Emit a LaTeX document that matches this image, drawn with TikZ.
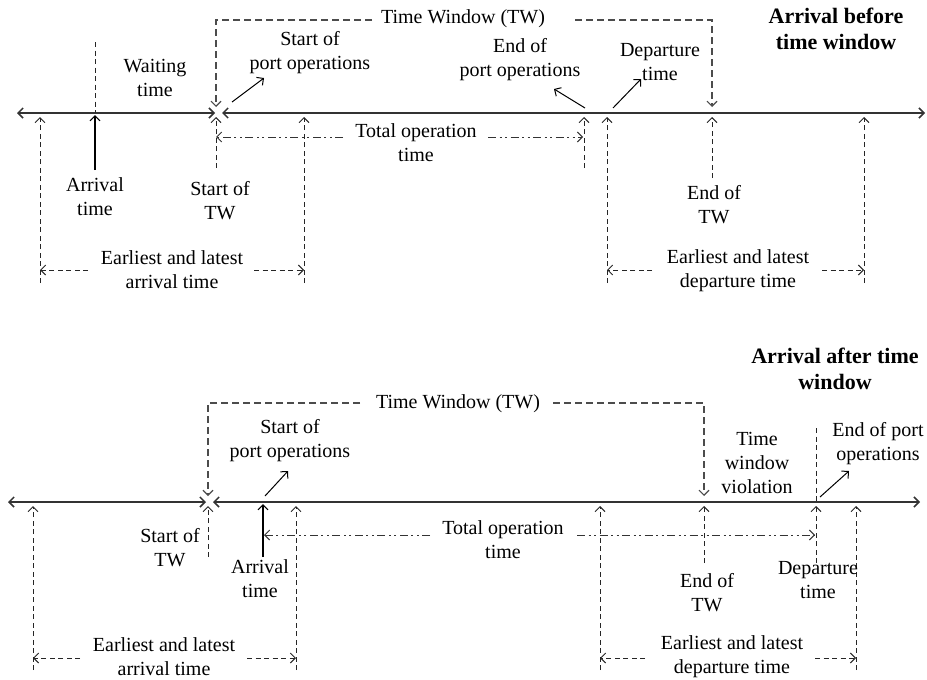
\documentclass[tikz,border=0pt]{standalone}
\usepackage{fontspec}
\setmainfont{Liberation Serif}
\usetikzlibrary{arrows.meta}
\begin{document}
\begin{tikzpicture}[x=1pt,y=-1pt,
  tip/.tip={Straight Barb[length=5pt,width=10pt]},
  axis/.style={line width=1.5pt,draw=black!80,{tip}-{tip}},
  dsh/.style={draw=black!85,line width=1pt,dash pattern=on 5pt off 3.5pt},
  wdsh/.style={draw=black!70,line width=1.1pt,dash pattern=on 7pt off 4pt},
  ddot/.style={draw=black!80,line width=1pt,dash pattern=on 8pt off 3.5pt on 2pt off 3.5pt on 2pt off 3.5pt},
  pin/.style={draw=black,line width=1pt,-{tip}},
  lbl/.style={align=center,inner sep=0pt,font=\fontsize{20}{24}\selectfont},
  ttl/.style={align=center,inner sep=0pt,font=\fontsize{22}{26}\selectfont\bfseries}]
\useasboundingbox (0,0) rectangle (927,680);

%% ---------------- Arrival before time window ----------------
\node[ttl] (t1) at (836,29) {Arrival before\\time window};

% time axis
\coordinate (a1L) at (17,113);  \coordinate (a1S) at (215,113);
\coordinate (a1S2) at (222,113); \coordinate (a1R) at (925,113);
\draw[axis] (a1L) -- (a1S);
\draw[axis] (a1S2) -- (a1R);

% time window bracket
\node[lbl] (tw1) at (463,19) {Time Window (TW)};
\coordinate (tw1a) at (372,20); \coordinate (tw1b) at (575,20);
\coordinate (s1top) at (216,107); \coordinate (e1top) at (712,107);
\draw[wdsh,-{tip}] (tw1a) -| (s1top);
\draw[wdsh,-{tip}] (tw1b) -| (e1top);

% arrival
\coordinate (ar1t) at (95,42); \coordinate (ar1a) at (95,113);
\coordinate (ar1b) at (95,115); \coordinate (ar1c) at (95,170);
\draw[dsh] (ar1t) -- (ar1a);
\draw[pin,line width=1.1pt] (ar1c) -- (ar1b);
\node[lbl] (arr1) at (95,197) {Arrival\\time};
\node[lbl] (wait1) at (155,78) {Waiting\\time};

% ticks below the axis
\foreach \n/\x/\y in {ea1/40/283, la1/304/283, sw1/216/168, ep1/584/168,
                      ed1/607/283, ew1/712/178, ld1/864/283}{
  \coordinate (\n a) at (\x,117);
  \coordinate (\n b) at (\x,\y);
  \draw[dsh,-{tip}] (\n b) -- (\n a);
}
\node[lbl] (stw1) at (220,201) {Start of\\TW};
\node[lbl] (etw1) at (714,205) {End of\\TW};

% start / end of port operations, departure
\node[lbl] (spo1) at (310,53) {Start of\\port operations};
\node[lbl] (epo1) at (520,60) {End of\\port operations};
\node[lbl] (dep1) at (660,62) {Departure\\time};
\coordinate (p1a) at (232,102); \coordinate (p1b) at (264,78);
\coordinate (p2a) at (585,108); \coordinate (p2b) at (554,89);
\coordinate (p3a) at (613,108); \coordinate (p3b) at (641,79);
\draw[pin] (p1a) -- (p1b);
\draw[pin] (p2a) -- (p2b);
\draw[pin] (p3a) -- (p3b);

% total operation time
\node[lbl] (tot1) at (416,143) {Total operation\\time};
\coordinate (to1a) at (343,137); \coordinate (to1b) at (216,137);
\coordinate (to1c) at (488,137); \coordinate (to1d) at (583,137);
\draw[ddot,-{tip}] (to1a) -- (to1b);
\draw[ddot,-{tip}] (to1c) -- (to1d);

% earliest / latest arrival and departure
\node[lbl] (eaa1) at (172,270) {Earliest and latest\\arrival time};
\node[lbl] (eda1) at (738,271) {Earliest and latest\\departure time};
\coordinate (h1a) at (88,270);  \coordinate (h1b) at (40,270);
\coordinate (h1c) at (254,270); \coordinate (h1d) at (304,270);
\coordinate (h1e) at (652,270); \coordinate (h1f) at (607,270);
\coordinate (h1g) at (822,270); \coordinate (h1h) at (864,270);
\draw[dsh,-{tip}] (h1a) -- (h1b);
\draw[dsh,-{tip}] (h1c) -- (h1d);
\draw[dsh,-{tip}] (h1e) -- (h1f);
\draw[dsh,-{tip}] (h1g) -- (h1h);

%% ---------------- Arrival after time window ----------------
\node[ttl] (t2) at (835,369) {Arrival after time\\window};

% time axis
\coordinate (a2L) at (8,502);  \coordinate (a2S) at (206,502);
\coordinate (a2S2) at (213,502); \coordinate (a2R) at (920,502);
\draw[axis] (a2L) -- (a2S);
\draw[axis] (a2S2) -- (a2R);

% time window bracket
\node[lbl] (tw2) at (458,404) {Time Window (TW)};
\coordinate (tw2a) at (360,403); \coordinate (tw2b) at (553,403);
\coordinate (s2top) at (208,496); \coordinate (e2top) at (704,496);
\draw[wdsh,-{tip}] (tw2a) -| (s2top);
\draw[wdsh,-{tip}] (tw2b) -| (e2top);

% ticks below the axis
\foreach \n/\x/\y in {ea2/33/670, sw2/208/557, la2/296/670, ed2/600/670,
                      ew2/704/563, dp2/816/563, ld2/856/670}{
  \coordinate (\n a) at (\x,506);
  \coordinate (\n b) at (\x,\y);
  \draw[dsh,-{tip}] (\n b) -- (\n a);
}
\coordinate (dp2t) at (816,428); \coordinate (dp2m) at (816,502);
\draw[dsh] (dp2t) -- (dp2m);
\node[lbl] (stw2) at (170,548) {Start of\\TW};
\node[lbl] (etw2) at (707,593) {End of\\TW};
\node[lbl] (dep2) at (818,580) {Departure\\time};

% arrival
\coordinate (ar2b) at (263,504); \coordinate (ar2c) at (263,557);
\draw[pin,line width=1.1pt] (ar2c) -- (ar2b);
\node[lbl] (arr2) at (260,579) {Arrival\\time};

% port operations and violation
\node[lbl] (spo2) at (290,441) {Start of\\port operations};
\node[lbl] (viol2) at (757,463) {Time\\window\\violation};
\node[lbl] (epo2) at (878,444) {End of port\\operations};
\coordinate (q1a) at (265,496); \coordinate (q1b) at (288,471);
\coordinate (q2a) at (820,497); \coordinate (q2b) at (849,471);
\draw[pin] (q1a) -- (q1b);
\draw[pin] (q2a) -- (q2b);

% total operation time
\node[lbl] (tot2) at (503,540) {Total operation\\time};
\coordinate (to2a) at (430,535); \coordinate (to2b) at (264,535);
\coordinate (to2c) at (577,535); \coordinate (to2d) at (815,535);
\draw[ddot,-{tip}] (to2a) -- (to2b);
\draw[ddot,-{tip}] (to2c) -- (to2d);

% earliest / latest arrival and departure
\node[lbl] (eaa2) at (164,657) {Earliest and latest\\arrival time};
\node[lbl] (eda2) at (732,657) {Earliest and latest\\departure time};
\coordinate (h2a) at (80,658);  \coordinate (h2b) at (33,658);
\coordinate (h2c) at (247,658); \coordinate (h2d) at (296,658);
\coordinate (h2e) at (645,658); \coordinate (h2f) at (600,658);
\coordinate (h2g) at (815,658); \coordinate (h2h) at (856,658);
\draw[dsh,-{tip}] (h2a) -- (h2b);
\draw[dsh,-{tip}] (h2c) -- (h2d);
\draw[dsh,-{tip}] (h2e) -- (h2f);
\draw[dsh,-{tip}] (h2g) -- (h2h);
\end{tikzpicture}
\end{document}
